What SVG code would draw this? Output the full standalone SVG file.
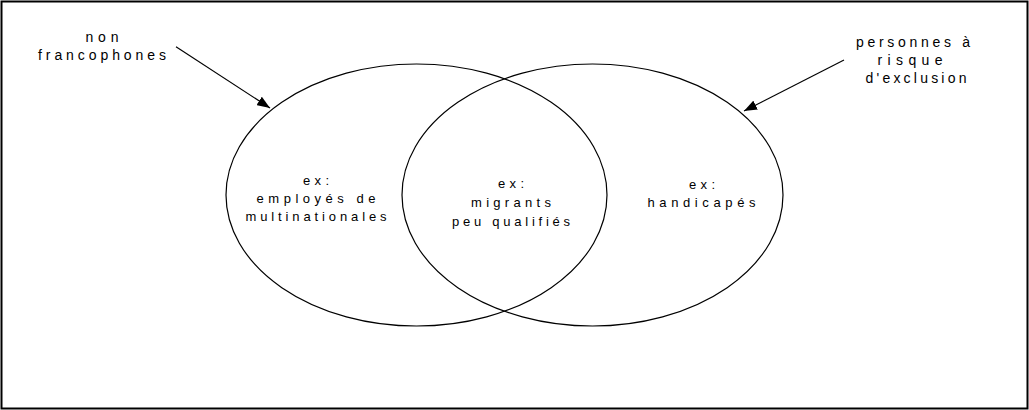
<svg xmlns="http://www.w3.org/2000/svg" width="1029" height="410" viewBox="0 0 1029 410">
<style>
text{font-family:"Liberation Sans",Arial,sans-serif;fill:#000;text-anchor:middle}
.lbl{font-size:14px}
.in{font-size:13px}
.ell{fill:none;stroke:#000;stroke-width:1.2}
.arr{stroke:#000;stroke-width:1.2;fill:none}
</style>
<defs>
<marker id="ah" markerUnits="userSpaceOnUse" markerWidth="14" markerHeight="10" refX="13" refY="5" orient="auto">
<path d="M0,0 L13,5 L0,10 z" fill="#000"/>
</marker>
</defs>
<rect x="1.5" y="1.5" width="1026" height="407" fill="#fff" stroke="#000" stroke-width="2"/>
<g id="set-non-francophones">
<ellipse class="ell" cx="416.5" cy="195" rx="190.5" ry="131"/>
<text class="in" x="316" y="185" textLength="26" lengthAdjust="spacing">ex:</text>
<text class="in" x="316" y="203" textLength="119" lengthAdjust="spacing">employés de</text>
<text class="in" x="316" y="221" textLength="141" lengthAdjust="spacing">multinationales</text>
</g>
<g id="set-exclusion">
<ellipse class="ell" cx="592.5" cy="195" rx="190.5" ry="131"/>
<text class="in" x="702" y="188.5" textLength="26" lengthAdjust="spacing">ex:</text>
<text class="in" x="701.5" y="207" textLength="108" lengthAdjust="spacing">handicapés</text>
</g>
<g id="intersection">
<text class="in" x="511" y="187.5" textLength="26" lengthAdjust="spacing">ex:</text>
<text class="in" x="511" y="207" textLength="80" lengthAdjust="spacing">migrants</text>
<text class="in" x="511" y="226" textLength="118" lengthAdjust="spacing">peu qualifiés</text>
</g>
<g id="label-non-francophones">
<text class="lbl" x="102" y="42" textLength="33" lengthAdjust="spacing">non</text>
<text class="lbl" x="102" y="60" textLength="128" lengthAdjust="spacing">francophones</text>
</g>
<g id="label-exclusion">
<text class="lbl" x="913" y="46.7" textLength="114" lengthAdjust="spacing">personnes à</text>
<text class="lbl" x="910" y="65" textLength="65" lengthAdjust="spacing">risque</text>
<text class="lbl" x="916" y="83.3" textLength="101" lengthAdjust="spacing">d'exclusion</text>
</g>
<g id="connectors">
<line class="arr" x1="176" y1="46.7" x2="270" y2="108" marker-end="url(#ah)"/>
<line class="arr" x1="844" y1="60" x2="744" y2="111" marker-end="url(#ah)"/>
</g>
</svg>
